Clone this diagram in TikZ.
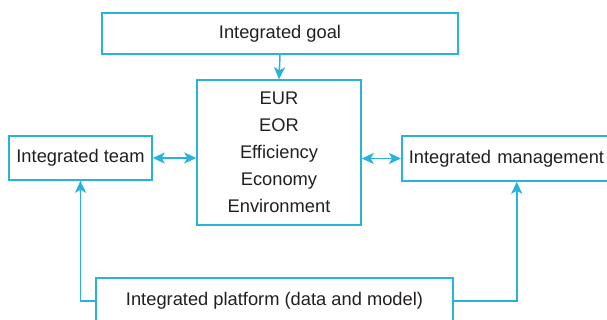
\documentclass[tikz,border=0pt]{standalone}
\usepackage{fontspec}
\setmainfont{Liberation Sans}
\usetikzlibrary{arrows.meta}
\definecolor{linecyan}{RGB}{40,178,220}
\definecolor{inkgray}{RGB}{35,31,32}
\begin{document}
\begin{tikzpicture}[x=1pt,y=-1pt,
  box/.style={draw=linecyan, line width=1.5pt, rectangle, inner sep=0pt,
    text=inkgray, font=\fontsize{18.3}{27}\selectfont, align=center},
  link/.style={draw=linecyan, line width=1.5pt},
  tip/.style={-{Stealth[length=12pt,width=11pt,inset=3pt]}},
  tips/.style={{Stealth[length=12pt,width=11pt,inset=3pt]}-{Stealth[length=12pt,width=11pt,inset=3pt]}}]
\useasboundingbox (0,0) rectangle (607,320);
\begin{scope}
\clip (0,0) rectangle (607,320);
% boxes
\node[box, minimum width=356pt, minimum height=41pt] (goal) at (280,33.5) {Integrated goal};
\node[box, minimum width=164pt, minimum height=145pt] (core) at (279,152.5)
  {EUR\\EOR\\Efficiency\\Economy\\Environment};
\node[box, minimum width=143pt, minimum height=44pt] (team) at (80.5,158) {Integrated team};
\node[box, anchor=west, text width=200pt, inner xsep=7pt, minimum height=45pt, align=left]
  (mgmt) at (401,158.5) {Integrated management};
\node[box, minimum width=357pt, minimum height=46pt] (plat) at (274.5,301)
  {Integrated platform (data and model)};

% connectors
\draw[link, tip] (goal.south) -- (core.north);
\draw[link, tips] (team.east) -- (team.east -| core.west);
\draw[link, tips] (core.east |- mgmt.west) -- (mgmt.west);
\draw[link, tip] (plat.west) -| (team.south);
\coordinate (mgmtin) at ([xshift=8pt]mgmt.south);
\draw[link, tip] (plat.east) -| (mgmtin);
\end{scope}
\end{tikzpicture}
\end{document}
